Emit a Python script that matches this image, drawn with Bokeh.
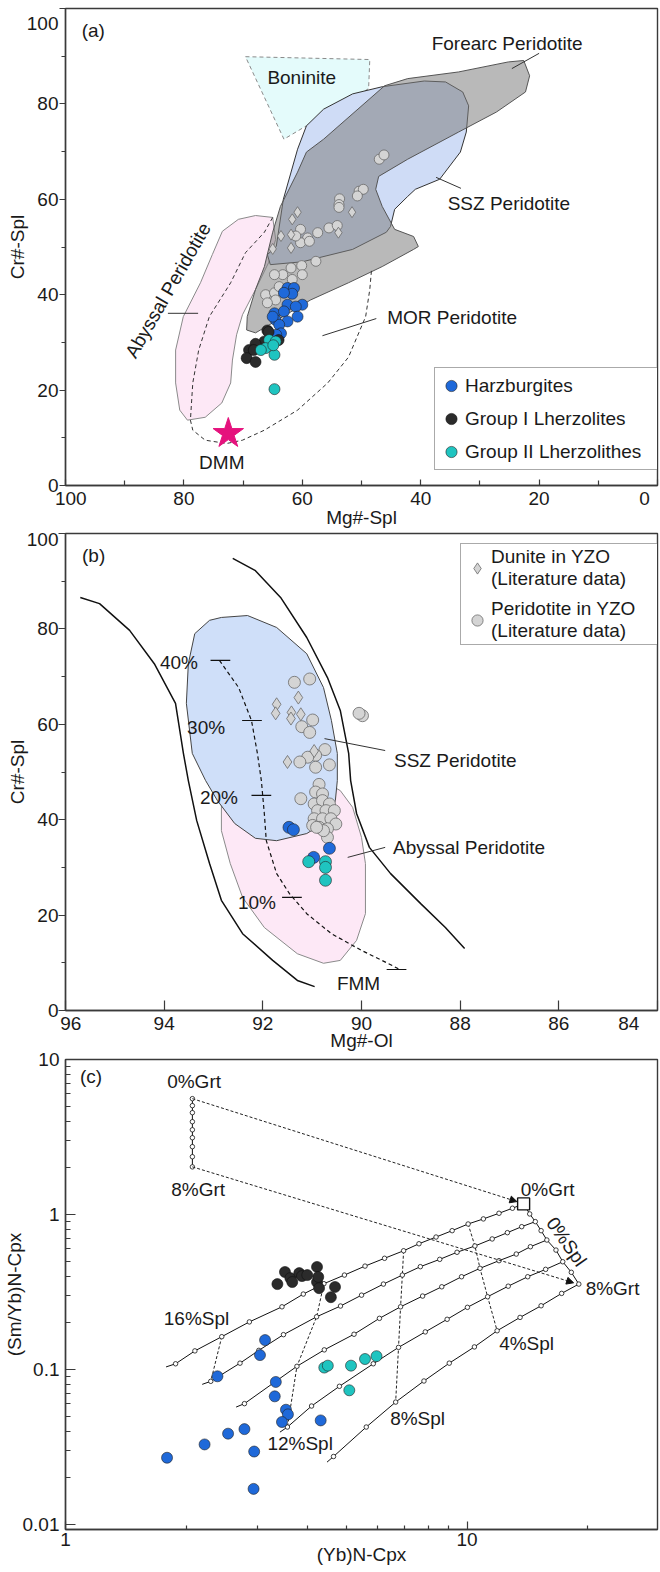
from bokeh.plotting import figure
from bokeh.models import (Range1d, FixedTicker, Legend, LegendItem, Label, Arrow,
                          NormalHead, CustomJSTickFormatter)
from bokeh.layouts import column
from bokeh.embed import file_html
from bokeh.resources import INLINE

FONT = "Liberation Sans"
INK = "#1a1a1a"
FRAME = "#3a3a3a"

# ======================= panel (a) data =======================
a_ticks = [0, 20, 40, 60, 80, 100]
a_minor = [10, 30, 50, 70, 90]

forearc_x = [59.3, 56.4, 46.1, 42.2, 33.6, 25.2, 22.6, 21.6, 22.3, 27.2, 33.6, 42.2, 47.1, 47.6, 46.5, 44.4,
             41.2, 40.4, 41.2, 46.5, 52.2, 58.6, 62.2, 65.0, 67.9, 69.4, 69.3, 67.9, 66.4, 65.0, 63.7, 60.8]
forearc_y = [69.9, 72.6, 83.8, 85.3, 86.7, 88.8, 89.1, 85.9, 82.5, 78.3, 74.1, 68.4, 64.8, 62.1, 58.5, 53.7,
             52.2, 50.1, 49.5, 45.9, 42.5, 38.9, 36.2, 34.1, 32.0, 32.6, 35.4, 41.1, 45.9, 53.1, 58.5, 65.7]
ssz_a_x = [64.4, 63.2, 60.8, 59.3, 56.4, 51.5, 46.5, 39.4, 35.8, 32.9, 31.9, 32.3, 33.3, 36.8, 40.9, 42.2,
           44.4, 45.1, 45.8, 51.5, 60.0, 65.4, 65.9]
ssz_a_y = [50.1, 60.0, 70.5, 75.4, 78.9, 82.1, 83.6, 84.8, 84.6, 82.5, 79.6, 74.1, 69.9, 64.2, 62.1, 60.6,
           57.9, 54.3, 53.1, 49.5, 46.9, 46.3, 48.4]
boninite_x = [69.6, 48.6, 48.8, 63.1]
boninite_y = [89.9, 89.3, 83.2, 72.6]
abyssal_a_x = [70.8, 67.9, 65.0, 64.5, 65.7, 67.9, 70.1, 71.1, 71.8, 72.1, 73.6, 76.4, 79.4, 80.7, 81.4, 81.4,
               80.1, 77.2, 75.2, 73.5]
abyssal_a_y = [55.8, 56.6, 56.2, 51.6, 46.7, 41.1, 35.8, 31.6, 26.3, 21.5, 17.3, 14.3, 13.7, 15.8, 21.5, 28.4,
               35.4, 42.5, 48.4, 53.3]
mor_x = [65.0, 66.4, 69.6, 72.1, 75.7, 77.5, 78.5, 78.9, 78.5, 76.4, 72.8, 70.1, 66.4, 60.8, 55.7, 52.2,
         49.3, 48.6, 48.3]
mor_y = [56.2, 53.1, 48.8, 42.5, 35.4, 28.4, 21.5, 13.7, 11.6, 9.5, 8.8, 9.5, 11.6, 15.8, 21.5, 26.9,
         35.4, 41.1, 45.3]
dmm_x = [72.5]
dmm_y = [10.9]

peri_a_x = [47.0, 46.2, 50.4, 49.7, 50.7, 53.7, 53.8, 53.8, 60.3, 57.4, 55.5, 54.1, 59.1, 60.3, 58.8, 61.1,
            57.7, 61.9, 60.1, 60.0, 63.3, 64.7, 61.7, 66.2, 64.7, 64.5, 65.9, 63.9]
peri_a_y = [68.4, 69.3, 61.7, 62.1, 60.7, 60.1, 58.9, 58.3, 53.7, 53.0, 54.0, 54.5, 51.9, 50.9, 51.2, 52.3,
            47.0, 45.6, 46.1, 44.2, 44.2, 44.2, 43.2, 40.0, 40.4, 38.9, 38.3, 41.7]
dun_a_x = [60.8, 61.7, 63.6, 61.9, 61.9, 65.0, 51.6, 53.9]
dun_a_y = [57.3, 55.8, 52.3, 52.6, 49.8, 49.6, 57.3, 53.0]
harz_a_x = [62.5, 61.4, 61.7, 63.1, 62.5, 60.0, 61.1, 64.7, 63.1, 60.8, 64.5, 62.5, 63.9, 63.6, 65.0, 64.4]
harz_a_y = [41.4, 41.4, 40.2, 40.4, 37.9, 37.9, 37.5, 36.1, 36.5, 35.4, 34.7, 34.4, 33.7, 31.9, 35.4, 31.6]
grp1_a_x = [65.9, 66.4, 67.9, 69.0, 69.4, 67.9, 65.7, 64.0, 68.2]
grp1_a_y = [32.5, 30.2, 29.7, 28.4, 26.7, 25.9, 32.2, 30.5, 28.4]
grp2_a_x = [65.6, 64.5, 66.2, 67.0, 64.7, 64.9, 64.7]
grp2_a_y = [30.5, 30.2, 28.8, 28.4, 27.4, 29.4, 20.2]

# ======================= panel (b) data =======================
b_xticks = [84, 86, 88, 90, 92, 94, 96]
b_yticks = [0, 20, 40, 60, 80, 100]
b_yminor = [10, 30, 50, 70, 90]

left_curve_x = [95.70, 95.31, 94.70, 94.20, 93.77, 93.61, 93.51, 93.34, 93.08, 92.84, 92.41, 91.80, 91.30, 90.95]
left_curve_y = [86.6, 85.3, 79.7, 72.7, 64.4, 53.9, 48.2, 39.8, 30.8, 23.1, 16.1, 10.5, 6.3, 5.0]
right_curve_x = [92.61, 92.15, 91.64, 91.11, 90.69, 90.43, 90.26, 90.22, 90.10, 89.84, 89.41, 88.80, 88.30, 87.91]
right_curve_y = [94.8, 92.2, 86.6, 78.2, 69.8, 62.9, 53.9, 48.2, 41.3, 34.2, 28.7, 22.4, 17.4, 13.0]
melt_x = [92.88, 92.49, 92.23, 92.11, 92.03, 91.97, 91.93, 91.72, 91.46, 91.11, 90.61, 90.00, 89.37, 89.23]
melt_y = [73.4, 67.7, 60.8, 53.9, 48.2, 41.3, 35.6, 28.7, 24.5, 20.3, 16.1, 12.6, 9.4, 8.6]
melt_tick_x = [92.86, 92.22, 92.03, 91.41, 89.29]
melt_tick_y = [73.4, 60.8, 45.1, 23.7, 8.6]

ssz_b_x = [92.84, 92.31, 91.72, 91.11, 90.77, 90.61, 90.49, 90.49, 90.53, 90.69, 91.11, 91.72, 92.15, 92.57,
           92.92, 93.16, 93.43, 93.55, 93.51, 93.38, 93.08]
ssz_b_y = [82.4, 82.8, 80.3, 74.8, 67.7, 60.8, 53.9, 48.2, 44.0, 39.8, 37.1, 35.6, 36.1, 39.2,
           44.0, 48.2, 53.9, 64.4, 72.7, 79.0, 81.8]
abyssal_b_x = [92.84, 92.84, 92.66, 92.41, 91.97, 91.30, 90.77, 90.43, 90.10, 89.92, 89.92, 90.00, 90.18,
               90.43, 90.79, 92.2]
abyssal_b_y = [44.0, 37.7, 30.8, 23.7, 17.4, 11.9, 9.9, 10.5, 14.7, 20.3, 30.8, 36.3, 42.6, 46.1, 48.2, 46.1]

peri_b_x = [91.36, 91.05, 90.99, 91.21, 91.05, 90.74, 90.93, 91.09, 91.25, 90.93, 90.65, 90.86, 90.93, 91.23,
            90.79, 90.96, 90.79, 90.65, 90.89, 90.72, 90.55, 90.96, 90.79, 90.62, 90.52, 90.86, 90.69, 90.99,
            89.98, 90.05, 90.69, 90.77, 90.91]
peri_b_y = [68.8, 69.5, 60.9, 59.5, 58.3, 54.7, 53.5, 53.1, 52.1, 51.0, 51.5, 47.4, 45.8, 44.4,
            45.4, 43.3, 44.0, 43.3, 41.9, 41.9, 41.9, 40.2, 40.2, 40.2, 39.1, 38.4, 38.1, 38.8,
            61.8, 62.3, 36.3, 37.7, 38.4]
dun_b_x = [91.28, 91.72, 91.74, 91.42, 91.23, 91.43, 91.50, 90.96]
dun_b_y = [65.6, 64.2, 62.3, 62.5, 62.1, 61.2, 52.1, 54.4]
harz_b_x = [91.47, 91.38, 90.65, 90.97]
harz_b_y = [38.4, 37.9, 34.0, 32.1]
grp2_b_x = [91.07, 90.73, 90.73, 90.73]
grp2_b_y = [31.2, 31.2, 30.0, 27.3]

# ======================= panel (c) data =======================
c_xticks = [1, 10]
c_xminor = [2, 3, 4, 5, 6, 7, 8, 9, 20]
c_yticks = [0.01, 0.1, 1, 10]
c_yminor = [0.02, 0.03, 0.04, 0.05, 0.06, 0.07, 0.08, 0.09, 0.2, 0.3, 0.4, 0.5, 0.6, 0.7, 0.8, 0.9,
            2, 3, 4, 5, 6, 7, 8, 9]

c1_x = [13.83, 12.97, 12.01, 10.98, 10.06, 9.18, 8.37, 7.59, 6.95, 6.23, 5.57, 4.95, 4.40, 3.91, 3.46, 2.87,
        2.45, 2.10, 1.88, 1.78]
c1_y = [1.171, 1.098, 1.019, 0.937, 0.869, 0.787, 0.716, 0.648, 0.584, 0.522, 0.465, 0.407, 0.358, 0.307,
        0.254, 0.203, 0.163, 0.132, 0.109, 0.104]
c2_x = [14.79, 13.68, 12.60, 11.55, 10.46, 9.44, 8.55, 7.65, 6.90, 6.19, 5.46, 4.84, 4.22, 3.49, 3.03, 2.72,
        2.30, 2.19]
c2_y = [0.900, 0.835, 0.764, 0.696, 0.627, 0.571, 0.514, 0.461, 0.407, 0.356, 0.302, 0.257, 0.219, 0.168,
        0.133, 0.110, 0.0840, 0.0803]
c3_x = [15.80, 14.38, 13.26, 12.01, 10.77, 9.69, 8.65, 7.75, 6.83, 6.05, 5.23, 4.41, 3.77, 2.79, 2.66]
c3_y = [0.685, 0.620, 0.556, 0.504, 0.450, 0.397, 0.342, 0.298, 0.254, 0.214, 0.169, 0.134, 0.105, 0.0603,
        0.0573]
c4_x = [17.31, 15.69, 14.16, 12.66, 11.25, 10.02, 8.92, 7.87, 6.75, 5.84, 4.81, 4.10, 3.57, 3.42]
c4_y = [0.496, 0.443, 0.397, 0.345, 0.295, 0.252, 0.211, 0.175, 0.139, 0.109, 0.078, 0.0582, 0.0426, 0.0395]
c5_x = [18.98, 17.20, 15.29, 13.55, 11.88, 10.43, 9.03, 7.81, 6.64, 5.61, 4.65, 4.48]
c5_y = [0.356, 0.310, 0.258, 0.217, 0.178, 0.140, 0.110, 0.0844, 0.0617, 0.0426, 0.0275, 0.0253]
spl0_x = [13.83, 14.32, 14.79, 15.29, 15.80, 16.65, 17.31, 18.18, 18.98]
spl0_y = [1.171, 1.009, 0.900, 0.787, 0.685, 0.590, 0.496, 0.424, 0.356]
grt_x = [2.07, 2.07, 2.07, 2.07, 2.07, 2.07, 2.07, 2.07, 2.07]
grt_y = [5.59, 5.04, 4.54, 3.97, 3.52, 3.13, 2.74, 2.36, 2.03]
arrow_end_x = [13.31, 18.42]
arrow_end_y = [1.212, 0.363]
iso_levels = [4, 8, 12, 16]
iso_curve_count = [5, 5, 4, 2]

harz_c_x = [3.14, 3.05, 2.39, 3.34, 3.32, 3.54, 3.58, 3.46, 4.32, 2.79, 2.54, 2.22, 2.95, 1.79, 2.94]
harz_c_y = [0.155, 0.124, 0.0905, 0.0832, 0.0672, 0.0551, 0.0514, 0.0459, 0.0470, 0.0413, 0.0386, 0.0329,
            0.0296, 0.0270, 0.0170]
grp1_c_x = [3.37, 3.52, 3.63, 3.67, 3.82, 3.88, 4.00, 4.23, 4.23, 4.28, 4.69, 4.58, 4.26]
grp1_c_y = [0.356, 0.426, 0.389, 0.367, 0.419, 0.401, 0.407, 0.459, 0.367, 0.335, 0.341, 0.293, 0.396]
grp2_c_x = [4.41, 4.50, 5.14, 5.57, 5.95, 5.09]
grp2_c_y = [0.103, 0.106, 0.106, 0.117, 0.122, 0.0735]

# ======================= styling =======================
BLUE = "#1f69d9"
DARK = "#2b2b2b"
CYAN = "#1fc4c0"
GRAYPT = "#d4d4d4"
PT_LINE = "#222222"


def make_fig(height, xr, yr, left, right, top, bottom, xt="linear", yt="linear"):
    p = figure(width=660, height=height, x_range=xr, y_range=yr, x_axis_type=xt, y_axis_type=yt,
               output_backend="svg", toolbar_location=None,
               min_border_left=left, min_border_right=right, min_border_top=top, min_border_bottom=bottom)
    p.grid.visible = False
    p.outline_line_color = FRAME
    p.outline_line_width = 1.4
    p.background_fill_alpha = 0
    p.border_fill_alpha = 0
    for ax in p.axis:
        ax.axis_line_color = FRAME
        ax.axis_line_width = 1.4
        ax.major_tick_line_color = FRAME
        ax.minor_tick_line_color = FRAME
        ax.major_tick_line_width = 1.2
        ax.minor_tick_line_width = 1.2
        ax.major_label_text_font = FONT
        ax.major_label_text_font_size = "19px"
        ax.major_label_text_color = INK
        ax.axis_label_text_font = FONT
        ax.axis_label_text_font_size = "19px"
        ax.axis_label_text_font_style = "normal"
        ax.axis_label_text_color = INK
    return p


def label(p, x, y, text, size="19px", angle=0.0, align="center"):
    p.add_layout(Label(x=x, y=y, text=text, text_font=FONT, text_font_size=size, text_color=INK,
                       text_align=align, text_baseline="middle", angle=angle))


# ======================= figure (a) =======================
pa = make_fig(540, Range1d(100, 0), Range1d(0, 100), 63, 3, 8, 55)
pa.xaxis.ticker = FixedTicker(ticks=a_ticks, minor_ticks=a_minor)
pa.yaxis.ticker = FixedTicker(ticks=a_ticks, minor_ticks=a_minor)
pa.xaxis.major_tick_in = 6
pa.xaxis.major_tick_out = 0
pa.xaxis.minor_tick_in = 5
pa.xaxis.minor_tick_out = 0
pa.xaxis.major_label_standoff = 2
pa.xaxis.axis_label_standoff = -5
pa.yaxis.major_tick_out = 6
pa.yaxis.major_tick_in = 0
pa.yaxis.minor_tick_out = 4
pa.yaxis.minor_tick_in = 0
pa.yaxis.major_label_standoff = 1
pa.yaxis.axis_label_standoff = -4
pa.xaxis.axis_label = "Mg#-Spl"
pa.yaxis.axis_label = "Cr#-Spl"
pa.xaxis.major_label_overrides = {100: "\u2007100", 0: "0\u2007"}
pa.yaxis.major_label_overrides = {100: "\n100"}
pa.yaxis.major_label_text_line_height = 0.6

pa.patch(abyssal_a_x, abyssal_a_y, fill_color="#fde8f6", line_color="#8a8a8a", line_width=1)
pa.patch(boninite_x, boninite_y, fill_color="#e4fbfb", line_color="#8a8a8a", line_width=1, line_dash="4 3")
pa.patch(ssz_a_x, ssz_a_y, fill_color="#cfdcf6", line_color="#333333", line_width=1)
pa.patch(forearc_x, forearc_y, fill_color="#808080", fill_alpha=0.55, line_color="#555555", line_width=1)
pa.line(mor_x, mor_y, line_color="#333333", line_width=1, line_dash="4 3")

pa.scatter(peri_a_x, peri_a_y, marker="circle", size=10, fill_color=GRAYPT, line_color="#6a6a6a", line_width=0.8)
pa.scatter(dun_a_x, dun_a_y, marker="diamond", size=11, fill_color=GRAYPT, line_color="#6a6a6a", line_width=0.8)
r_harz = pa.scatter(harz_a_x, harz_a_y, marker="circle", size=11, fill_color=BLUE, line_color=PT_LINE,
                    line_width=0.6)
r_grp1 = pa.scatter(grp1_a_x, grp1_a_y, marker="circle", size=11, fill_color=DARK, line_color="#111111",
                    line_width=0.6)
r_grp2 = pa.scatter(grp2_a_x, grp2_a_y, marker="circle", size=11, fill_color=CYAN, line_color=PT_LINE,
                    line_width=0.6)
pa.scatter(dmm_x, dmm_y, marker="star", size=32, fill_color="#e5127d", line_color="#e5127d")

pa.segment(x0=[20.0, 37.4, 47.5, 82.7], y0=[90.6, 64.6, 35.0, 36.1],
           x1=[24.6, 33.2, 56.6, 77.6], y1=[87.4, 62.3, 31.4, 36.1], line_color="#333333", line_width=1)
label(pa, 95.3, 95.4, "(a)")
label(pa, 60.1, 85.5, "Boninite")
label(pa, 25.4, 92.7, "Forearc Peridotite")
label(pa, 25.1, 59.1, "SSZ Peridotite")
label(pa, 34.7, 35.2, "MOR Peridotite")
label(pa, 82.7, 40.9, "Abyssal Peridotite", angle=1.05)
label(pa, 73.6, 4.8, "DMM")

leg_a = Legend(items=[LegendItem(label="Harzburgites", renderers=[r_harz]),
                      LegendItem(label="Group I Lherzolites", renderers=[r_grp1]),
                      LegendItem(label="Group II Lherzolithes", renderers=[r_grp2])],
               location=(369, 15), padding=2, spacing=2, glyph_width=28, glyph_height=31,
               label_standoff=0, label_width=192, label_height=20, margin=0,
               border_line_color="#555555", border_line_width=1, background_fill_color="white",
               background_fill_alpha=1, label_text_font=FONT, label_text_font_size="19px",
               label_text_color=INK)
pa.add_layout(leg_a)

# ======================= figure (b) =======================
pb = make_fig(552, Range1d(96, 84), Range1d(0, 100), 63, 3, 20, 55)
pb.margin = (-27, 0, 0, 0)
pb.xaxis.ticker = FixedTicker(ticks=b_xticks)
pb.yaxis.ticker = FixedTicker(ticks=b_yticks, minor_ticks=b_yminor)
pb.xaxis.major_tick_in = 10
pb.xaxis.major_tick_out = 0
pb.xaxis.major_label_standoff = 2
pb.xaxis.axis_label_standoff = -7
pb.yaxis.major_tick_out = 7
pb.yaxis.major_tick_in = 0
pb.yaxis.minor_tick_out = 4
pb.yaxis.minor_tick_in = 0
pb.yaxis.major_label_standoff = 0
pb.yaxis.axis_label_standoff = -4
pb.xaxis.axis_label = "Mg#-Ol"
pb.yaxis.axis_label = "Cr#-Spl"
pb.xaxis.major_label_overrides = {96: "\u200796", 84: "84\u2007\u2007"}
pb.yaxis.major_label_overrides = {100: "\n100"}
pb.yaxis.major_label_text_line_height = 0.6

pb.patch(abyssal_b_x, abyssal_b_y, fill_color="#fde8f6", line_color="#8a8a8a", line_width=1)
pb.patch(ssz_b_x, ssz_b_y, fill_color="#cfdff9", line_color="#444444", line_width=1)
pb.line(left_curve_x, left_curve_y, line_color="#111111", line_width=1.5)
pb.line(right_curve_x, right_curve_y, line_color="#111111", line_width=1.5)
pb.line(melt_x, melt_y, line_color="#111111", line_width=1.2, line_dash="4 3")
pb.segment(x0=[x + 0.2 for x in melt_tick_x], y0=melt_tick_y,
           x1=[x - 0.2 for x in melt_tick_x], y1=melt_tick_y, line_color="#111111", line_width=1.2)

r_per_b = pb.scatter(peri_b_x, peri_b_y, marker="circle", size=12, fill_color=GRAYPT, line_color="#6a6a6a",
                     line_width=0.8)
r_dun_b = pb.scatter(dun_b_x, dun_b_y, marker="diamond", size=13, fill_color=GRAYPT, line_color="#6a6a6a",
                     line_width=0.8)
pb.scatter(harz_b_x, harz_b_y, marker="circle", size=12, fill_color=BLUE, line_color=PT_LINE, line_width=0.6)
pb.scatter(grp2_b_x, grp2_b_y, marker="circle", size=12, fill_color=CYAN, line_color=PT_LINE, line_width=0.6)

pb.segment(x0=[90.75, 90.28], y0=[57.0, 32.1], x1=[89.52, 89.52], y1=[54.5, 34.2],
           line_color="#333333", line_width=1)
label(pb, 95.43, 95.4, "(b)")
label(pb, 93.70, 73.0, "40%")
label(pb, 93.15, 59.3, "30%")
label(pb, 92.89, 44.7, "20%")
label(pb, 92.12, 22.6, "10%")
label(pb, 90.06, 5.7, "FMM")
label(pb, 88.10, 52.4, "SSZ Peridotite")
label(pb, 87.82, 34.2, "Abyssal Peridotite")

leg_b = Legend(items=[LegendItem(label="Dunite in YZO\n(Literature data)", renderers=[r_dun_b]),
                      LegendItem(label="Peridotite in YZO\n(Literature data)", renderers=[r_per_b])],
               location=(395, 365), padding=2, spacing=8, glyph_width=28, glyph_height=30,
               label_standoff=0, label_width=166, margin=0, label_text_line_height=1.2,
               border_line_color="#555555", border_line_width=1, background_fill_color="white",
               background_fill_alpha=1, label_text_font=FONT, label_text_font_size="19px",
               label_text_color=INK)
pb.add_layout(leg_b)

# ======================= figure (c) =======================
pc = make_fig(530, Range1d(1, 29.8), Range1d(0.0093, 10), 65, 2, 17, 43, xt="log", yt="log")
pc.margin = (-23, 0, 0, 0)
pc.xaxis.ticker = FixedTicker(ticks=c_xticks, minor_ticks=c_xminor)
pc.yaxis.ticker = FixedTicker(ticks=c_yticks, minor_ticks=c_yminor)
pc.xaxis.formatter = CustomJSTickFormatter(code="return tick.toString();")
pc.yaxis.formatter = CustomJSTickFormatter(code="return tick.toString();")
pc.xaxis.major_tick_in = 8
pc.xaxis.major_tick_out = 0
pc.xaxis.minor_tick_in = 4
pc.xaxis.minor_tick_out = 0
pc.xaxis.major_label_standoff = 3
pc.xaxis.axis_label_standoff = -5
pc.yaxis.major_tick_in = 10
pc.yaxis.major_tick_out = 0
pc.yaxis.minor_tick_in = 5
pc.yaxis.minor_tick_out = 0
pc.yaxis.major_label_standoff = 6
pc.yaxis.axis_label_standoff = -5
pc.xaxis.axis_label = "(Yb)N-Cpx"
pc.yaxis.axis_label = "(Sm/Yb)N-Cpx"

curves_x = [c1_x, c2_x, c3_x, c4_x, c5_x]
curves_y = [c1_y, c2_y, c3_y, c4_y, c5_y]

for lev, n in zip(iso_levels, iso_curve_count):
    pc.line([curves_x[k][lev] for k in range(n)], [curves_y[k][lev] for k in range(n)],
            line_color="#222222", line_width=1, line_dash="3 2")
for i, (sx, sy) in enumerate([(grt_x[0], grt_y[0]), (grt_x[-1], grt_y[-1])]):
    pc.add_layout(Arrow(end=NormalHead(size=7, fill_color="#111111", line_color="#111111"),
                        x_start=sx, y_start=sy, x_end=arrow_end_x[i], y_end=arrow_end_y[i],
                        line_color="#222222", line_width=1, line_dash="3 2"))
for cx, cy in zip(curves_x, curves_y):
    pc.line(cx, cy, line_color="#111111", line_width=1)
pc.line(spl0_x, spl0_y, line_color="#111111", line_width=1)
pc.line(grt_x, grt_y, line_color="#111111", line_width=1)
for cx, cy in zip(curves_x, curves_y):
    pc.scatter(cx[1:-1], cy[1:-1], marker="circle", size=4.5, fill_color="white", line_color="#111111",
               line_width=0.8)
pc.scatter(spl0_x[1:], spl0_y[1:], marker="circle", size=4.5, fill_color="white", line_color="#111111",
           line_width=0.8)
pc.scatter(grt_x, grt_y, marker="circle", size=4.5, fill_color="white", line_color="#111111", line_width=0.8)
pc.scatter(spl0_x[:1], spl0_y[:1], marker="square", size=12, fill_color="white", line_color="#111111",
           line_width=1.4)

pc.scatter(grp1_c_x, grp1_c_y, marker="circle", size=11, fill_color=DARK, line_color="#111111", line_width=0.6)
pc.scatter(harz_c_x, harz_c_y, marker="circle", size=11, fill_color=BLUE, line_color=PT_LINE, line_width=0.6)
pc.scatter(grp2_c_x, grp2_c_y, marker="circle", size=11, fill_color=CYAN, line_color=PT_LINE, line_width=0.6)

label(pc, 1.158, 7.75, "(c)")
label(pc, 2.09, 7.19, "0%Grt")
label(pc, 2.14, 1.44, "8%Grt")
label(pc, 15.87, 1.44, "0%Grt")
label(pc, 23.03, 0.335, "8%Grt")
label(pc, 17.69, 0.668, "0%Spl", angle=-0.96)
label(pc, 2.12, 0.215, "16%Spl")
label(pc, 3.84, 0.0332, "12%Spl")
label(pc, 7.53, 0.0482, "8%Spl")
label(pc, 14.07, 0.147, "4%Spl")

layout = column(pa, pb, pc, spacing=0)
open("out.html", "w").write(file_html(layout, INLINE))
